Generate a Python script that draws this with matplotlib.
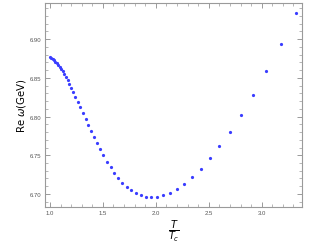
import matplotlib
matplotlib.use("Agg")
import matplotlib.pyplot as plt
from matplotlib.ticker import MultipleLocator, FormatStrFormatter

# T/Tc and Re omega (GeV)
t_ratio = [1.000, 1.013, 1.026, 1.039, 1.052, 1.065, 1.079, 1.094, 1.108, 1.122,
           1.137, 1.151, 1.167, 1.183, 1.199, 1.218, 1.241, 1.264, 1.287, 1.312,
           1.337, 1.362, 1.390, 1.419, 1.447, 1.475, 1.505, 1.538, 1.572, 1.607,
           1.644, 1.683, 1.725, 1.765, 1.811, 1.858, 1.907, 1.957, 2.011, 2.070,
           2.134, 2.200, 2.269, 2.344, 2.424, 2.509, 2.599, 2.701, 2.804, 2.921,
           3.043, 3.180, 3.327]
re_omega = [6.8770, 6.8756, 6.8742, 6.8726, 6.8710, 6.8690, 6.8668, 6.8644, 6.8615, 6.8585,
            6.8551, 6.8514, 6.8468, 6.8418, 6.8368, 6.8314, 6.8250, 6.8186, 6.8119, 6.8049,
            6.7974, 6.7894, 6.7813, 6.7735, 6.7654, 6.7577, 6.7497, 6.7417, 6.7342, 6.7271,
            6.7206, 6.7148, 6.7094, 6.7048, 6.7010, 6.6981, 6.6964, 6.6955, 6.6961, 6.6983,
            6.7013, 6.7061, 6.7129, 6.7215, 6.7323, 6.7461, 6.7615, 6.7804, 6.8023, 6.8281,
            6.8583, 6.8932, 6.9335]

fig = plt.figure(figsize=(3.29, 2.51), dpi=100)
ax = fig.add_axes([0.1368, 0.1713, 0.7812, 0.8127])

ax.plot(t_ratio, re_omega, 'o', color='#3a3dff', markersize=2.3, markeredgewidth=0)

ax.set_xlim(0.953, 3.381)
ax.set_ylim(6.6832, 6.9465)

ax.xaxis.set_major_locator(MultipleLocator(0.5))
ax.xaxis.set_minor_locator(MultipleLocator(0.1))
ax.yaxis.set_major_locator(MultipleLocator(0.05))
ax.yaxis.set_minor_locator(MultipleLocator(0.01))
ax.xaxis.set_major_formatter(FormatStrFormatter('%.1f'))
ax.yaxis.set_major_formatter(FormatStrFormatter('%.2f'))

for s in ax.spines.values():
    s.set_color('#9a9a9a')
    s.set_linewidth(0.8)

ax.tick_params(which='both', direction='in', top=True, right=True,
               color='#9a9a9a', labelsize=4.3, labelcolor='#555555', pad=2.5)
ax.tick_params(which='major', length=3.5, width=0.7)
ax.tick_params(which='minor', length=2, width=0.5)
for lab in ax.get_xticklabels() + ax.get_yticklabels():
    lab.set_family('Liberation Sans')

fig.text(0.064, 0.578, r'Re $\omega$(GeV)', rotation=90, fontsize=7.3,
         ha='center', va='center')
fig.text(0.528, 0.075, r'$\frac{T}{T_c}$', fontsize=10, ha='center', va='center')

fig.savefig('out.png', dpi=100)
